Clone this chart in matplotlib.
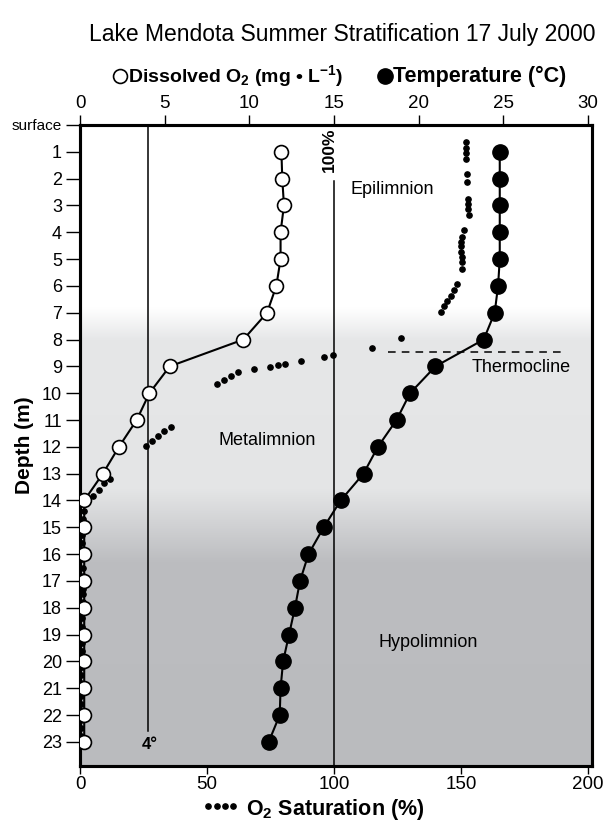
import numpy as np
import matplotlib
matplotlib.use("Agg")
import matplotlib.pyplot as plt
from matplotlib.lines import Line2D

plt.rcParams["font.family"] = ["Liberation Sans", "DejaVu Sans"]
plt.rcParams["mathtext.fontset"] = "custom"
plt.rcParams["mathtext.rm"] = "Liberation Sans"
plt.rcParams["mathtext.bf"] = "Liberation Sans:bold"
plt.rcParams["mathtext.default"] = "bf"

# ---- profile data (17 July 2000) ----
depth_m = list(range(1, 24))
oxygen_mg_l = [11.9, 11.95, 12.05, 11.85, 11.85, 11.6, 11.05, 9.65, 5.3, 4.1,
               3.35, 2.3, 1.35, 0.25, 0.25, 0.25, 0.25, 0.25, 0.25, 0.25,
               0.25, 0.25, 0.25]
temperature_c = [24.8, 24.8, 24.8, 24.8, 24.8, 24.7, 24.5, 23.85, 21.0, 19.5,
                 18.7, 17.6, 16.75, 15.4, 14.4, 13.5, 13.0, 12.7, 12.35, 12.0,
                 11.85, 11.8, 11.15]

# O2 saturation readings from the continuous sonde cast
sat_depth = [0.65, 0.86, 1.05, 1.26, 1.83, 2.14, 2.75, 2.94, 3.13, 3.35,
             3.91, 4.16, 4.35, 4.53, 4.72, 4.91, 5.09, 5.38, 5.94, 6.17,
             6.37, 6.55, 6.75, 6.96,
             7.94, 8.33, 8.59, 8.64, 8.80, 8.90, 8.95, 9.01, 9.11, 9.21,
             9.36, 9.52, 9.67,
             11.25, 11.42, 11.60, 11.80, 11.97,
             13.20, 13.36, 13.61, 13.82,
             14.1, 14.4, 14.7, 15.0, 15.3, 15.6, 15.9, 16.2, 16.5, 16.8,
             17.1, 17.3, 17.5, 17.8, 18.1, 18.4, 18.7, 19.0, 19.3, 19.6,
             19.9, 20.2, 20.5, 20.8, 21.1, 21.3, 21.6, 21.9, 22.2, 22.5,
             22.8, 23.0]
sat_percent = [152.2, 152.2, 152.2, 152.2, 152.3, 152.3, 152.7, 152.8, 153.0, 153.1,
               151.4, 150.6, 150.2, 150.2, 150.2, 150.4, 150.5, 150.5, 148.6, 147.3,
               146.0, 144.6, 143.5, 142.1,
               126.6, 114.9, 99.5, 96.3, 87.1, 80.9, 77.8, 74.7, 68.5, 62.3,
               59.5, 56.7, 54.1,
               35.8, 33.1, 30.6, 28.2, 25.8,
               11.8, 9.6, 7.5, 5.0,
               2.4, 1.4, 1.0, 0.9, 0.8, 0.8, 0.8, 0.9, 1.0, 1.1,
               1.1, 1.2, 1.1, 1.0, 0.9, 0.8, 0.8, 0.7, 0.7, 0.6,
               0.6, 0.6, 0.5, 0.5, 0.5, 0.4, 0.4, 0.4, 0.3, 0.3,
               0.3, 0.3]

depth_ticks = list(range(0, 24))
depth_labels = ["surface"] + [str(d) for d in range(1, 24)]
top_ticks = [0, 5, 10, 15, 20, 25, 30]
bottom_ticks = [0, 50, 100, 150, 200]

thermocline_depth = 8.46
four_degree = 4
full_saturation = 100

# ---- figure & axes ----
W, H = 609, 827
fig = plt.figure(figsize=(W / 100, H / 100), dpi=100)
left, right, top, bottom = 80, 592, 125, 766
ax_sat = fig.add_axes([left / W, 1 - bottom / H, (right - left) / W, (bottom - top) / H])
ax = ax_sat.twiny()
ax.patch.set_visible(False)

ymax = 23.9
xmax_top = 30.25
xmax_sat = xmax_top * 20 / 3
ax_sat.set_ylim(ymax, 0)
ax_sat.set_xlim(0, xmax_sat)
ax.set_xlim(0, xmax_top)

# background shading for the layers of the water column
zz = np.linspace(0, ymax, 600)
keys = [0, 6.8, 8.0, 13.6, 16.3, ymax]
levels = np.array([[255, 255, 255], [255, 255, 255], [230, 231, 232],
                   [228, 229, 230], [188, 189, 192], [186, 187, 190]]) / 255.0
cols = np.stack([np.interp(zz, keys, levels[:, k]) for k in range(3)], axis=1)
ax_sat.imshow(cols[:, None, :], extent=[0, xmax_sat, ymax, 0], aspect="auto",
              zorder=0, interpolation="bilinear")

# reference lines
ax_sat.plot([full_saturation, full_saturation], [2.1, ymax], color="black", lw=1.1, zorder=2)
ax.plot([four_degree, four_degree], [0, 22.6], color="black", lw=1.1, zorder=2)
ax.plot([18.2, 28.6], [thermocline_depth, thermocline_depth], color="black",
        lw=1.1, ls=(0, (5, 4)), zorder=2)

# saturation dots
ax_sat.plot(sat_percent, sat_depth, ls="none", marker="o", ms=3.8,
            color="black", zorder=3)

# O2 and temperature profiles
ax.plot(oxygen_mg_l, depth_m, color="black", lw=1.5, marker="o", ms=10,
        mfc="white", mec="black", mew=1.2, zorder=4)
ax.plot(temperature_c, depth_m, color="black", lw=1.5, marker="o", ms=11,
        mfc="black", mec="black", zorder=5)

# labels inside the plot
ax.text(18.45, 2.4, "Epilimnion", fontsize=13, ha="center", va="center", zorder=6)
ax.text(26.07, 9.03, "Thermocline", fontsize=13, ha="center", va="center", zorder=6)
ax.text(11.03, 11.75, "Metalimnion", fontsize=13, ha="center", va="center", zorder=6)
ax.text(20.6, 19.3, "Hypolimnion", fontsize=13, ha="center", va="center", zorder=6)
ax_sat.text(full_saturation - 1.6, 0.08, "100%", rotation=90, fontsize=12.5,
            fontweight="bold", ha="center", va="top", zorder=6)
ax.text(4.1, 23.1, "4°", fontsize=12, fontweight="bold", ha="center",
        va="center", zorder=6)

# axes styling
for a in (ax, ax_sat):
    for s in a.spines.values():
        s.set_linewidth(2.2)
ax_sat.set_yticks(depth_ticks)
ax_sat.set_yticklabels(depth_labels)
for lab in ax_sat.get_yticklabels():
    lab.set_fontsize(11 if lab.get_text() == "surface" else 13)
ax_sat.tick_params(axis="y", direction="out", length=10, width=1, pad=3)
ax_sat.set_xticks(bottom_ticks)
ax_sat.tick_params(axis="x", direction="out", length=6, width=1,
                   labelsize=13.5, pad=1.5)
ax.set_xticks(top_ticks)
ax.tick_params(axis="x", direction="out", length=7, width=1,
               labelsize=13.5, pad=2)

ax_sat.set_ylabel("Depth (m)", fontsize=15, fontweight="bold")
ax_sat.yaxis.set_label_coords(-46 / (right - left), 0.5)

# title and key
fig.text(0.562, 0.958, "Lake Mendota Summer Stratification 17 July 2000",
         fontsize=16.5, ha="center", va="center")
fig.add_artist(Line2D([120 / W], [1 - 76 / H], marker="o", ms=10, mfc="white",
                      mec="black", mew=1.2, transform=fig.transFigure))
fig.text(128 / W, 1 - 76 / H, "Dissolved O$_2$ (mg • L$^{-1}$)", fontsize=14,
         fontweight="bold", ha="left", va="center")
fig.add_artist(Line2D([385 / W], [1 - 76 / H], marker="o", ms=11, mfc="black",
                      mec="black", transform=fig.transFigure))
fig.text(393 / W, 1 - 76 / H, "Temperature (°C)", fontsize=15.5,
         fontweight="bold", ha="left", va="center")
# dotted key for the saturation series
key_x = [208, 216.5, 225, 233.5]
fig.add_artist(Line2D([x / W for x in key_x], [1 - 806 / H] * 4, ls="none",
                      marker="o", ms=3.8, color="black", transform=fig.transFigure))
fig.text(246 / W, 1 - 809 / H, "O$_2$ Saturation (%)", fontsize=15.5,
         fontweight="bold", ha="left", va="center")

fig.savefig("out.png", dpi=100)
